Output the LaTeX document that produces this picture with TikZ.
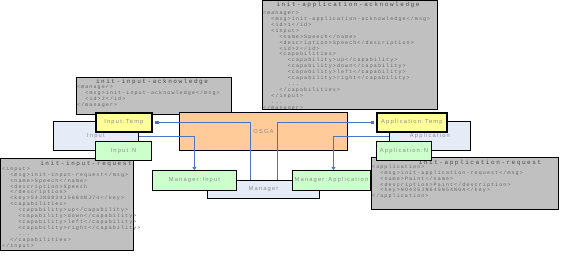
\documentclass[tikz,border=0pt]{standalone}
\usepackage{fontspec}
\usetikzlibrary{arrows.meta}
\newfontfamily\labelfont[LetterSpace=20]{Liberation Sans}
\newfontfamily\codefont[LetterSpace=22]{Liberation Mono}
\newfontfamily\notetitlefont[LetterSpace=26]{Liberation Mono}
\definecolor{notegray}{HTML}{C0C0C0}
\definecolor{osgaorange}{HTML}{FFCC99}
\definecolor{lavender}{HTML}{E6ECF7}
\definecolor{tempyellow}{HTML}{FFFF99}
\definecolor{ngreen}{HTML}{CCFFCC}
\definecolor{labelgray}{HTML}{8C8C8C}
\definecolor{codegray}{HTML}{666666}
\definecolor{titlegray}{HTML}{4A4A4A}
\definecolor{linkblue}{HTML}{4A76C0}
\newcommand{\indt}{\hspace*{8.2pt}}

\begin{document}
\begin{tikzpicture}[
    x=1pt, y=-1pt,
    component/.style={rectangle, draw, line width=0.9pt, anchor=north west, inner sep=0pt, align=center, text=labelgray, font=\labelfont\fontsize{5.8}{7}\selectfont},
    tempbox/.style={component, fill=tempyellow, line width=1.8pt},
    instbox/.style={component, fill=ngreen},
    groupbox/.style={component, fill=lavender},
    note/.style={rectangle, draw, fill=notegray, line width=0.8pt, anchor=north west, inner sep=0pt},
    notetitle/.style={inner sep=0pt, text=titlegray, font=\notetitlefont\fontsize{6}{7}\selectfont},
    notebody/.style={inner sep=0pt, anchor=north west, align=left, text=codegray, font=\codefont\fontsize{5}{5.9}\selectfont},
    link/.style={draw=linkblue, line width=0.8pt},
    sqtip/.style={{Square[length=3pt, width=3pt]}-, shorten <=2.5pt},
    arrtip/.style={-{Triangle[length=3pt, width=4pt]}},
]
\fill[white] (0,0) rectangle (562,256);
\useasboundingbox (0,0) rectangle (562,256);

% Notes
\node[note, minimum width=155pt, minimum height=37pt] (inack) at (76,77) {};
\node[notetitle] (inacktitle) at (152,82) {init-input-acknowledge};
\node[notebody] (inackbody) at (77,85.5) {<manager>\\
\indt<msg>init-input-acknowledge</msg>\\
\indt<id>2</id>\\
</manager>};

\node[note, minimum width=175pt, minimum height=109pt] (appack) at (262,0) {};
\node[notetitle] (appacktitle) at (348,5) {init-application-acknowledge};
\node[notebody] (appackbody) at (263,11.5) {<manager>\\
\indt<msg>init-application-acknowledge</msg>\\
\indt<id>1</id>\\
\indt<input>\\
\indt\indt<name>Speech</name>\\
\indt\indt<description>Speech</description>\\
\indt\indt<id>2</id>\\
\indt\indt<capabilities>\\
\indt\indt\indt<capability>up</capability>\\
\indt\indt\indt<capability>down</capability>\\
\indt\indt\indt<capability>left</capability>\\
\indt\indt\indt<capability>right</capability>\\
\indt\indt\indt...\\
\indt\indt</capabilities>\\
\indt</input>\\
\indt...\\
</manager>};

\node[note, minimum width=133pt, minimum height=92pt] (inreq) at (0,158) {};
\node[notetitle] (inreqtitle) at (86,164) {init-input-request};
\node[notebody] (inreqbody) at (2,166.5) {<input>\\
\indt<msg>init-input-request</msg>\\
\indt<name>Speech</name>\\
\indt<description>Speech\\
\indt</description>\\
\indt<key>54JN6834J5684NJ74</key>\\
\indt<capabilities>\\
\indt\indt<capability>up</capability>\\
\indt\indt<capability>down</capability>\\
\indt\indt<capability>left</capability>\\
\indt\indt<capability>right</capability>\\
\indt\indt...\\
\indt</capabilities>\\
</input>};

\node[note, minimum width=187pt, minimum height=52pt] (appreq) at (371,157) {};
\node[notetitle] (appreqtitle) at (480,163) {init-application-request};
\node[notebody] (appreqbody) at (372,164.5) {<application>\\
\indt<msg>init-application-request</msg>\\
\indt<name>Paint</name>\\
\indt<description>Paint</description>\\
\indt<key>NO435JN045N54NOA</key>\\
</application>};

% Components
\node[groupbox, minimum width=85pt, minimum height=29pt] (input) at (53,121) {Input};
\node[tempbox, minimum width=56pt, minimum height=19pt] (intemp) at (95,112) {Input:Temp};
\node[instbox, minimum width=56pt, minimum height=19pt] (inn) at (95,141) {Input:N};
\node[component, fill=osgaorange, minimum width=168pt, minimum height=38pt] (osga) at (179,112) {OSGA};
\node[groupbox, minimum width=81pt, minimum height=29pt] (application) at (389,121) {Application};
\node[tempbox, minimum width=70pt, minimum height=19pt] (apptemp) at (376,112) {Application:Temp};
\node[instbox, minimum width=55pt, minimum height=19pt] (appn) at (376,141) {Application:N};
\node[groupbox, minimum width=112pt, minimum height=18pt] (manager) at (207,180) {Manager};
\node[instbox, minimum width=84pt, minimum height=20pt] (mgrinput) at (152,170) {Manager:Input};
\node[instbox, minimum width=78pt, minimum height=20pt] (mgrapp) at (292,170) {Manager:Application};

% Links
\draw[link, sqtip] (intemp.east) -| ([xshift=-13pt]manager.north);
\draw[link, arrtip] (input.east) -| (mgrinput.north);
\draw[link, sqtip] (apptemp.west) -| ([xshift=14pt]manager.north);
\draw[link, arrtip] (application.west) -| ([xshift=2pt]mgrapp.north);

\end{tikzpicture}
\end{document}
